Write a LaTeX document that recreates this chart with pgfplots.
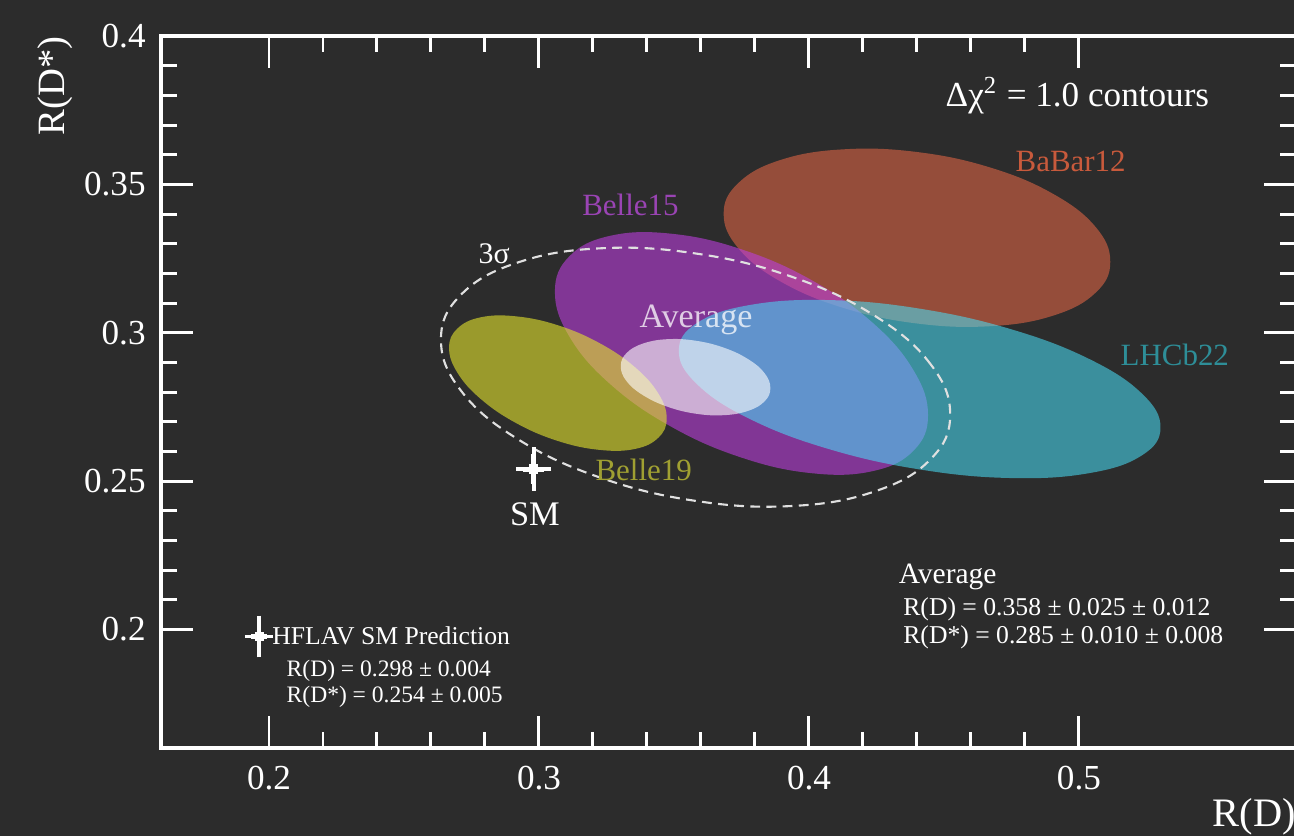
\documentclass[border=0pt]{standalone}
\usepackage{fontspec}
\setmainfont{Liberation Serif}
\usepackage{pgfplots}
\pgfplotsset{compat=1.18}

\definecolor{board}{RGB}{44,44,44}
\definecolor{cBaBar}{RGB}{220,100,68}
\definecolor{cBelleA}{RGB}{187,62,220}
\definecolor{cLHCb}{RGB}{72,225,250}
\definecolor{cBelleB}{RGB}{228,228,45}
\definecolor{lBaBar}{RGB}{200,90,60}
\definecolor{lBelleA}{RGB}{154,68,180}
\definecolor{lBelleB}{RGB}{160,160,50}
\definecolor{lLHCb}{RGB}{46,142,152}

\newcommand{\fs}[1]{\fontsize{#1}{1.2\dimexpr#1pt\relax}\selectfont}

\begin{document}
\begin{tikzpicture}[lbl/.style={inner sep=0pt, anchor=base west}]
\path[use as bounding box] (0,0) rectangle (12.94cm,8.36cm);
\fill[board] (0,0) rectangle (12.94cm,8.36cm);
\begin{axis}[
  at={(1.61cm,0.88cm)}, anchor=south west, scale only axis,
  width=11.35cm, height=7.12cm,
  xmin=0.16, xmax=0.5804, ymin=0.16, ymax=0.4,
  clip=false,
  axis line style={white, line width=0.95pt},
  xtick={0.2,0.3,0.4,0.5}, xticklabels={0.2,0.3,0.4,0.5},
  ytick={0.2,0.25,0.3,0.35,0.4}, yticklabels={0.2,0.25,0.3,0.35,0.4},
  minor x tick num=4, minor y tick num=4,
  tick align=inside,
  major tick length=3.2mm, minor tick length=1.6mm,
  tick style={white, line width=0.85pt},
  ticklabel style={white, font=\fs{10}},
  xticklabel style={yshift=-0.6mm},
  yticklabel style={xshift=-0.3mm},
  ellipse/.style={draw=none, fill opacity=0.6, smooth cycle, tension=0.69},
]

% Delta chi^2 = 1 contours of the individual measurements
\addplot[ellipse, fill=cBaBar] coordinates {
 (0.5116,0.3239) (0.5062,0.3356) (0.4906,0.3467) (0.4674,0.3556)
 (0.4400,0.3609) (0.4126,0.3618) (0.3894,0.3582) (0.3739,0.3505)
 (0.3684,0.3401) (0.3739,0.3284) (0.3894,0.3173) (0.4126,0.3084)
 (0.4400,0.3031) (0.4674,0.3022) (0.4906,0.3058) (0.5062,0.3135)};

\addplot[ellipse, fill=cBelleA] coordinates {
 (0.4441,0.2722) (0.4388,0.2872) (0.4239,0.3031) (0.4014,0.3175)
 (0.3750,0.3281) (0.3486,0.3334) (0.3261,0.3326) (0.3112,0.3257)
 (0.3059,0.3138) (0.3112,0.2988) (0.3261,0.2829) (0.3486,0.2685)
 (0.3750,0.2579) (0.4014,0.2526) (0.4239,0.2534) (0.4388,0.2603)};

\addplot[ellipse, fill=cLHCb, fill opacity=0.55] coordinates {
 (0.5302,0.2681) (0.5234,0.2794) (0.5041,0.2910) (0.4751,0.3011)
 (0.4410,0.3081) (0.4069,0.3110) (0.3779,0.3093) (0.3586,0.3033)
 (0.3518,0.2939) (0.3586,0.2826) (0.3779,0.2710) (0.4069,0.2609)
 (0.4410,0.2539) (0.4751,0.2510) (0.5041,0.2527) (0.5234,0.2587)};

\addplot[ellipse, fill=cBelleB] coordinates {
 (0.3473,0.2711) (0.3442,0.2795) (0.3355,0.2884) (0.3224,0.2965)
 (0.3070,0.3025) (0.2916,0.3055) (0.2785,0.3052) (0.2698,0.3014)
 (0.2667,0.2949) (0.2698,0.2865) (0.2785,0.2776) (0.2916,0.2695)
 (0.3070,0.2635) (0.3224,0.2605) (0.3355,0.2608) (0.3442,0.2646)};

% world average, 1 and 3 sigma
\addplot[ellipse, fill=white] coordinates {
 (0.3857,0.2813) (0.3836,0.2863) (0.3776,0.2910) (0.3686,0.2949)
 (0.3580,0.2973) (0.3474,0.2978) (0.3384,0.2963) (0.3324,0.2931)
 (0.3303,0.2887) (0.3324,0.2837) (0.3384,0.2790) (0.3474,0.2751)
 (0.3580,0.2727) (0.3686,0.2722) (0.3776,0.2737) (0.3836,0.2769)};

\addplot[white!88!black, line width=0.6pt, dash pattern=on 2.8pt off 1.8pt,
  smooth cycle, tension=0.69] coordinates {
 (0.4523,0.2724) (0.4451,0.2893) (0.4247,0.3055) (0.3941,0.3187)
 (0.3580,0.3267) (0.3219,0.3284) (0.2913,0.3234) (0.2709,0.3126)
 (0.2637,0.2977) (0.2709,0.2807) (0.2913,0.2646) (0.3219,0.2514)
 (0.3580,0.2433) (0.3941,0.2416) (0.4247,0.2466) (0.4451,0.2574)};

% SM prediction and its key symbol
\addplot[white, mark=square*, mark size=0.42mm, only marks,
  error bars/.cd, x dir=both, x explicit, y dir=both, y explicit,
  error bar style={white, line width=1.5pt},
  error mark options={white, line width=1.1pt, mark size=0.7mm}]
  coordinates {(0.298,0.254) +- (0.004,0.005)};
\addplot[white, mark=square*, mark size=0.38mm, only marks,
  error bars/.cd, x dir=both, x explicit, y dir=both, y explicit,
  error bar style={white, line width=1.3pt},
  error mark options={white, line width=1pt, mark size=0.6mm}]
  coordinates {(0.1963,0.1976) +- (0.003,0.005)};

% labels
\node[lbl, white, font=\fs{10}] at (axis cs:0.4504,0.3762) {Δχ\textsuperscript{2} = 1.0 contours};
\node[lbl, lBaBar, font=\fs{8.8}] at (axis cs:0.4763,0.3545) {BaBar12};
\node[lbl, lBelleA, font=\fs{8.8}] at (axis cs:0.3158,0.3394) {Belle15};
\node[lbl, lBelleB, font=\fs{8.8}] at (axis cs:0.3207,0.2503) {Belle19};
\node[lbl, lLHCb, font=\fs{8.8}] at (axis cs:0.5152,0.2890) {LHCb22};
\node[lbl, white, text opacity=0.75, font=\fs{9.7}] at (axis cs:0.3370,0.3019) {Average};
\node[lbl, white, font=\fs{8.5}] at (axis cs:0.2774,0.3234) {3σ};
\node[white, inner sep=0pt, anchor=base, font=\fs{9.8}] at (axis cs:0.2985,0.2351) {SM};

\node[lbl, white, font=\fs{7.3}] at (axis cs:0.2010,0.1948) {HFLAV SM Prediction};
\node[lbl, white, font=\fs{6.7}] at (axis cs:0.2063,0.1842) {R(D) = 0.298 ± 0.004};
\node[lbl, white, font=\fs{6.7}] at (axis cs:0.2063,0.1755) {R(D*) = 0.254 ± 0.005};

\node[lbl, white, font=\fs{8.4}] at (axis cs:0.4330,0.2155) {Average};
\node[lbl, white, font=\fs{7.3}] at (axis cs:0.4347,0.2047) {R(D) = 0.358 ± 0.025 ± 0.012};
\node[lbl, white, font=\fs{7.3}] at (axis cs:0.4347,0.1954) {R(D*) = 0.285 ± 0.010 ± 0.008};

% axis titles
\node[white, inner sep=0pt, rotate=90, anchor=base east, font=\fs{11}] at (axis cs:0.1244,0.4) {R(D*)};
\node[lbl, white, font=\fs{11.5}] at (axis cs:0.5493,0.1336) {R(D)};
\end{axis}
\end{tikzpicture}
\end{document}
